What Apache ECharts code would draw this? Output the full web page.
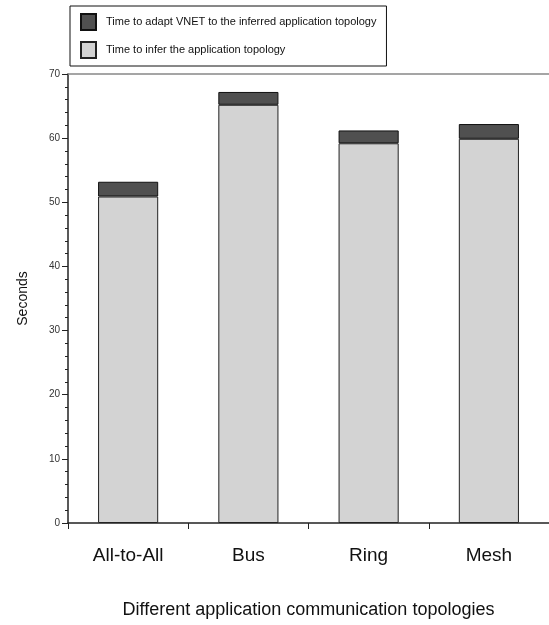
<!DOCTYPE html>
<html>
<head>
<meta charset="utf-8">
<script src="https://cdn.jsdelivr.net/npm/echarts@6/dist/echarts.min.js"></script>
<style>html,body{margin:0;padding:0;background:#fff;}#c{width:549px;height:625px;}</style>
</head>
<body>
<div id="c"></div>
<script>
const categories = ['All-to-All', 'Bus', 'Ring', 'Mesh'];
const inferTime = [50.9, 65.2, 59.2, 59.9];
const adaptTime = [2.3, 2.0, 2.0, 2.3];
const seriesNames = ['Time to adapt VNET to the inferred application topology', 'Time to infer the application topology'];
const yTicks = [0, 10, 20, 30, 40, 50, 60, 70];

const chart = echarts.init(document.getElementById('c'), null, {renderer: 'canvas'});
const font = 'Liberation Sans, Arial, sans-serif';
chart.setOption({
  animation: false,
  backgroundColor: '#fff',
  textStyle: {fontFamily: font},
  legend: {
    orient: 'vertical',
    left: 70, top: 6,
    data: seriesNames.map(n => ({name: n, icon: 'rect'})),
    itemWidth: 15, itemHeight: 16, itemGap: 10,
    padding: [7, 10, 7, 10],
    borderColor: '#111', borderWidth: 1,
    textStyle: {fontSize: 11, color: '#111', fontFamily: font, padding: [0, 0, 0, 5]},
    selectedMode: false
  },
  grid: {left: 68, right: -1, top: 74, bottom: 102, containLabel: false},
  xAxis: [{
    type: 'category',
    data: categories,
    position: 'bottom',
    axisLine: {lineStyle: {color: '#222', width: 1.5}},
    axisTick: {show: true, alignWithLabel: false, length: 6, lineStyle: {color: '#222'}},
    axisLabel: {fontSize: 19, color: '#111', margin: 23, fontFamily: font},
    name: 'Different application communication topologies',
    nameLocation: 'middle',
    nameGap: 78,
    nameTextStyle: {fontSize: 18, color: '#111', fontFamily: font}
  }, {
    type: 'category',
    data: categories,
    position: 'top',
    axisLine: {show: true, lineStyle: {color: '#888', width: 1.5}},
    axisTick: {show: false},
    axisLabel: {show: false}
  }],
  yAxis: {
    type: 'value',
    min: yTicks[0], max: yTicks[yTicks.length - 1], interval: 10,
    axisLine: {show: true, lineStyle: {color: '#222', width: 1.5}},
    axisTick: {show: true, length: 6, lineStyle: {color: '#222'}},
    minorTick: {show: true, splitNumber: 5, length: 3, lineStyle: {color: '#222'}},
    splitLine: {show: false},
    axisLabel: {fontSize: 10, color: '#333', margin: 8, fontFamily: font},
    name: 'Seconds',
    nameLocation: 'middle',
    nameGap: 38,
    nameRotate: 90,
    nameTextStyle: {fontSize: 14, color: '#111', fontFamily: font}
  },
  series: [{
    name: seriesNames[1],
    type: 'bar',
    stack: 't',
    data: inferTime,
    barWidth: '50%',
    itemStyle: {color: '#d3d3d3', borderColor: '#222', borderWidth: 1}
  }, {
    name: seriesNames[0],
    type: 'bar',
    stack: 't',
    data: adaptTime,
    barWidth: '50%',
    itemStyle: {color: '#505050', borderColor: '#111', borderWidth: 1}
  }]
});
</script>
</body>
</html>
